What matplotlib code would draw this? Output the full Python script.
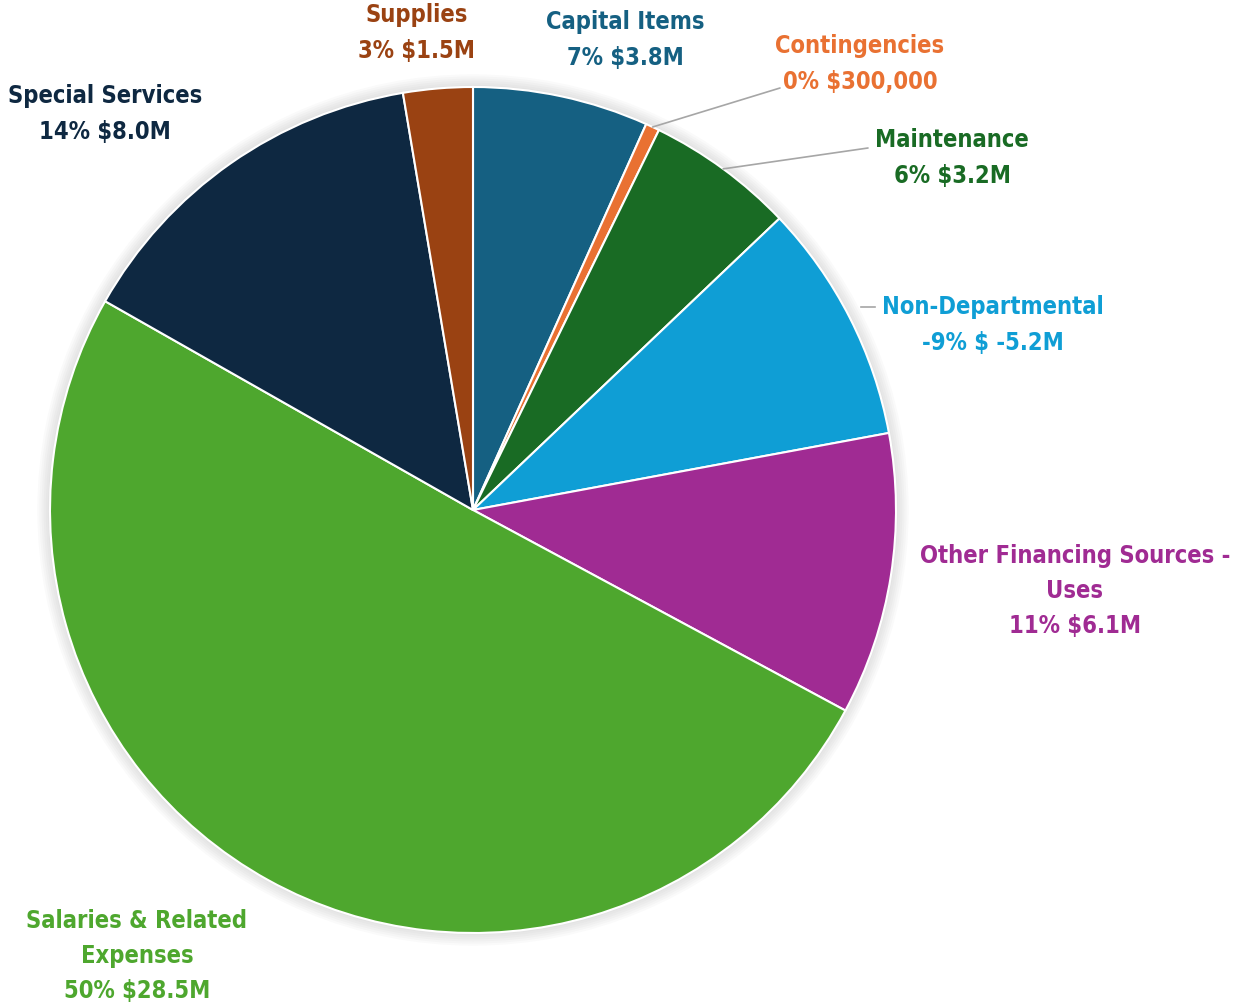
import matplotlib.pyplot as plt
import numpy as np
from matplotlib.patches import Circle
from matplotlib.lines import Line2D

# budget categories, clockwise from 12 o'clock
categories = ["Capital Items", "Contingencies", "Maintenance", "Non-Departmental",
              "Other Financing Sources -\nUses", "Salaries & Related\nExpenses",
              "Special Services", "Supplies"]
amounts = [3.8, 0.3, 3.2, -5.2, 6.1, 28.5, 8.0, 1.5]   # $M
pct_labels = ["7%", "0%", "6%", "-9%", "11%", "50%", "14%", "3%"]
amt_labels = ["$3.8M", "$300,000", "$3.2M", "$ -5.2M", "$6.1M", "$28.5M", "$8.0M", "$1.5M"]
colors = ["#156082", "#E97132", "#196B24", "#0F9ED5", "#A02B93", "#4EA72E", "#0E2841", "#9A4212"]

W, H = 1237, 1005
cx, cy, R = 473, 510, 423   # pie centre / radius in pixels

fig = plt.figure(figsize=(W / 100, H / 100), dpi=100)
ax = fig.add_axes([(cx - R) / W, (H - cy - R) / H, 2 * R / W, 2 * R / H])

# soft halo behind the pie
for k in range(6):
    ax.add_patch(Circle((0, 0), 1.0 + 0.005 * (k + 1), color="#888888",
                        alpha=0.04, lw=0, zorder=0, clip_on=False))

sizes = np.abs(amounts)
wedges, _ = ax.pie(sizes, colors=colors, startangle=90, counterclock=False,
                   radius=1.0, wedgeprops=dict(edgecolor="white", linewidth=1.5))
for w in wedges:
    w.set_zorder(2)
ax.set_xlim(-1, 1)
ax.set_ylim(-1, 1)
ax.set_aspect("equal")
ax.axis("off")

plt.rcParams['font.family'] = ['DejaVu Sans']

# label anchor positions (pixels, centre of text block)
label_pos = [(625, 40), (860, 64), (952, 158), (993, 325),
             (1075, 591), (137, 956), (105, 114), (417, 33)]
leaders = {1: (780, 88), 2: (868, 148)}

for i, (name, pc, am) in enumerate(zip(categories, pct_labels, amt_labels)):
    x, y = label_pos[i]
    fig.text(x / W, 1 - y / H, f"{name}\n{pc} {am}", ha="center", va="center",
             fontsize=17, fontweight="bold", fontstretch="condensed",
             color=colors[i], linespacing=1.6)
    if i in leaders:
        w = wedges[i]
        ang = np.deg2rad((w.theta1 + w.theta2) / 2)
        ex, ey = leaders[i]
        ax.annotate("", xy=(np.cos(ang), np.sin(ang)),
                    xytext=(ex / W, 1 - ey / H), textcoords="figure fraction",
                    arrowprops=dict(arrowstyle="-", color="#A6A6A6", lw=1.2,
                                    shrinkA=0, shrinkB=0))

# short stub in front of the Non-Departmental label
fig.add_artist(Line2D([861 / W, 875 / W], [1 - 307 / H, 1 - 307 / H],
                      color="#A6A6A6", lw=1.2))

fig.savefig("out.png", dpi=100)
